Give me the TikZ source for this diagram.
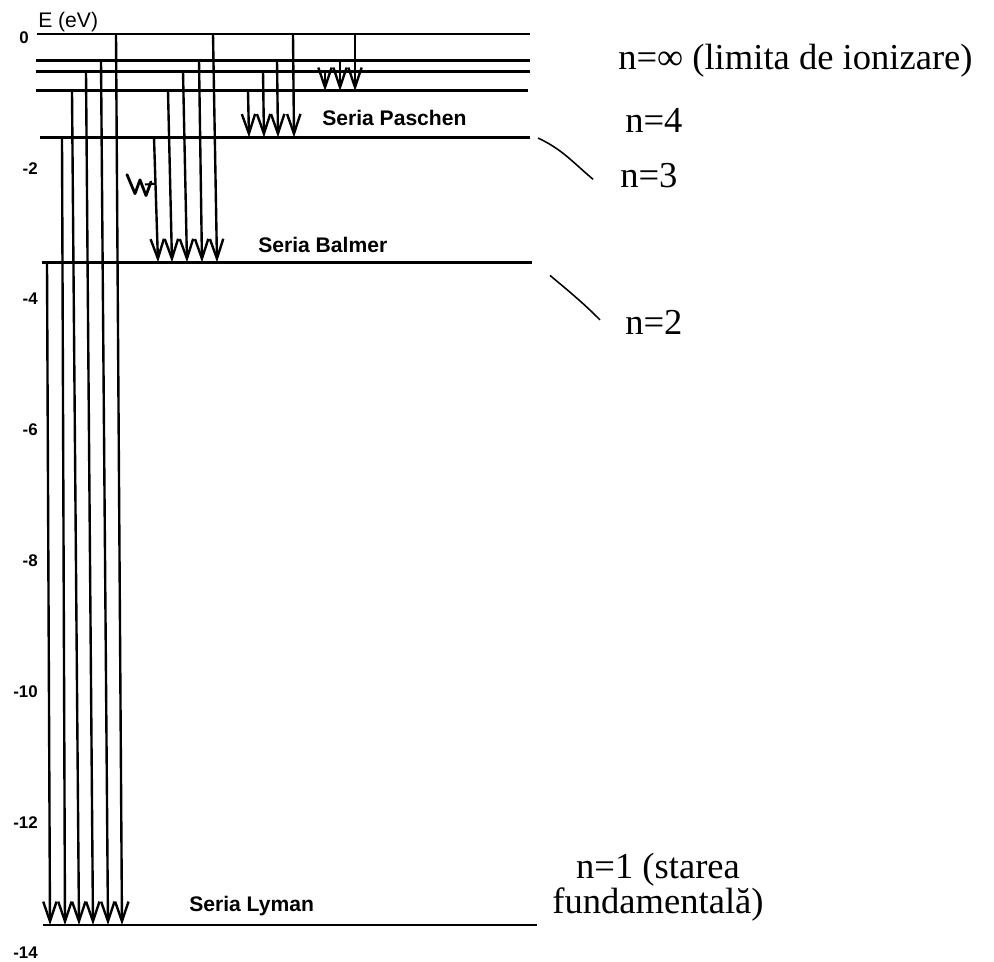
\documentclass[tikz,border=0pt]{standalone}
\usepackage{fontspec}
\setmainfont{Liberation Serif}
\setsansfont{Liberation Sans}
\usetikzlibrary{arrows.meta}
% energiile nivelurilor (eV), asa cum apar in desen
\newcommand{\Einf}{0}
\newcommand{\Esase}{-0.40}
\newcommand{\Ecinci}{-0.57}
\newcommand{\Epatru}{-0.87}
\newcommand{\Etrei}{-1.58}
\newcommand{\Edoi}{-3.49}
\newcommand{\Eunu}{-13.62}
\tikzset{
  nivel/.style={line width=2.1pt},
  emisie/.style={line width=1.7pt, -{Straight Barb[length=14pt,width=9.5pt]}},
  serie/.style={font=\sffamily\bfseries\fontsize{15}{18}\selectfont, anchor=west, inner sep=0pt},
  gradatie/.style={font=\sffamily\bfseries\fontsize{12}{14}\selectfont, anchor=east, inner sep=0pt},
  stare/.style={font=\fontsize{26}{30}\selectfont, anchor=base west, inner sep=0pt},
  indicator/.style={line width=1.1pt}
}

\begin{document}
\begin{tikzpicture}[x=0.025cm, y=1.635cm]
    \useasboundingbox (0,0.52) rectangle (994,-14.174);

    % axa energiei
    \node[font=\sffamily\fontsize{15}{18}\selectfont, anchor=base west, inner sep=0pt] (axa) at (38,0.092) {E (eV)};
    \node[gradatie] (g0) at (29,-0.06) {0};
    \foreach \v in {2,4,...,14}
        \node[gradatie] (g\v) at (38,-\v-0.05) {-\v};

    % nivelurile de energie
    \draw[nivel] (37,\Einf) -- (530,\Einf);
    \draw[nivel] (36,\Esase) -- (530,\Esase);
    \draw[nivel] (36,\Ecinci) -- (530,\Ecinci);
    \draw[nivel] (36,\Epatru) -- (528,\Epatru);
    \draw[nivel] (40,\Etrei) -- (530,\Etrei);
    \draw[nivel] (42,\Edoi) -- (532,\Edoi);
    \draw[nivel] (43,\Eunu) -- (537,\Eunu);

    % seria Lyman (catre n=1)
    \foreach \xs/\xj/\Es in {47/50/\Edoi, 62/65/\Etrei, 72/79/\Epatru, 86/93/\Ecinci, 101/108/\Esase, 116/122/\Einf}
        \draw[emisie] (\xs,\Es) -- (\xj,\Eunu);

    % seria Balmer (catre n=2)
    \foreach \xs/\xj/\Es in {154/158/\Etrei, 168/172/\Epatru, 183/187/\Ecinci, 199/202/\Esase, 213/217/\Einf}
        \draw[emisie] (\xs,\Es) -- (\xj,\Edoi);

    % seria Paschen (catre n=3)
    \foreach \xs/\xj/\Es in {248/249/\Epatru, 263/264/\Ecinci, 277/278/\Esase, 293/294/\Einf}
        \draw[emisie] (\xs,\Es) -- (\xj,\Etrei);

    % tranzitii catre n=4
    \foreach \xs/\Es in {325/\Ecinci, 340/\Esase, 355/\Einf}
        \draw[emisie] (\xs,\Es) -- (\xs,\Epatru);

    % semnul mic dintre serii
    \draw[line width=2pt, line join=round, line cap=round] (127,-2.15) -- (135,-2.44) -- (140,-2.23) -- (146,-2.47) -- (151,-2.26);
    \draw[line width=1.4pt] (145,-2.30) -- (155,-2.29);

    % denumirile seriilor
    \node[serie] (paschen) at (322,-1.28) {Seria Paschen};
    \node[serie] (balmer) at (258,-3.23) {Seria Balmer};
    \node[serie] (lyman) at (189,-13.33) {Seria Lyman};

    % numerele cuantice
    \node[stare] (ninf) at (618,-0.55) {n=∞ (limita de ionizare)};
    \node[stare] (n4) at (625,-1.50) {n=4};
    \node[stare] (n3) at (620,-2.34) {n=3};
    \node[stare] (n2) at (625,-4.59) {n=2};
    \node[font=\fontsize{26}{23.5}\selectfont, align=center, inner sep=0pt] (n1) at (658,-13.04) {n=1 (starea\\fundamentală)};

    % indicatoare catre n=3 si n=2
    \coordinate (i3a) at (538,-1.59);
    \coordinate (i3b) at (593,-2.22);
    \coordinate (i2a) at (550,-3.69);
    \coordinate (i2b) at (600,-4.37);
    \draw[indicator] (i3a) to[out=-25,in=140] (i3b);
    \draw[indicator] (i2a) to[out=-40,in=135] (i2b);
\end{tikzpicture}
\end{document}
